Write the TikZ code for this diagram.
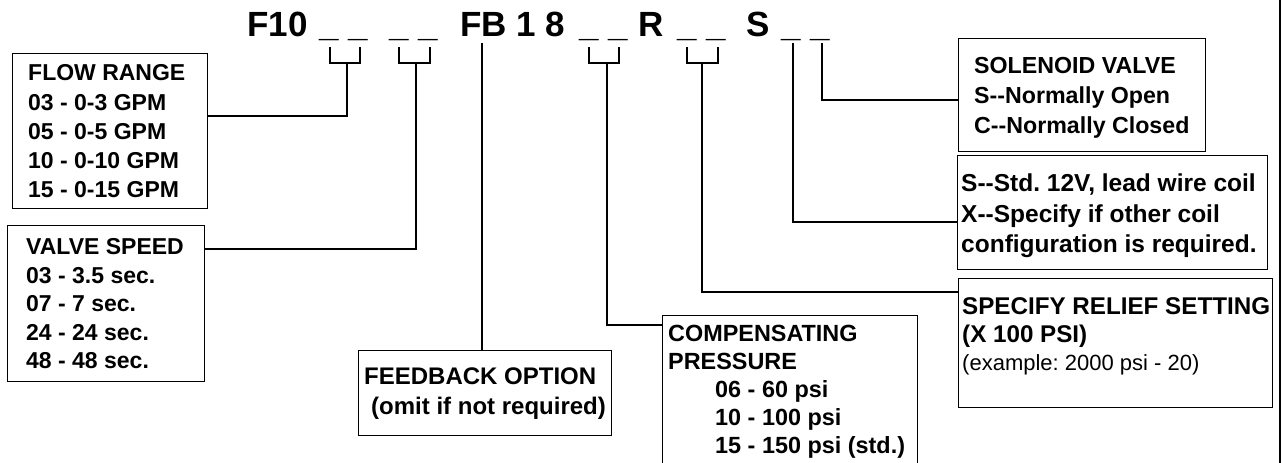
\documentclass[tikz,border=0pt]{standalone}
\usepackage{fontspec}
\setmainfont{Liberation Sans}
\frenchspacing
\begin{document}
\begin{tikzpicture}[x=1pt,y=-1pt]
\tikzset{
  box/.style={draw=black, line width=1.4pt, inner sep=0pt, anchor=north west},
  wire/.style={draw=black, line width=1.3pt},
  lbl/.style={inner sep=0pt, anchor=north west, align=left, font=\bfseries\fontsize{23}{29.25}\selectfont},
  ttl/.style={inner sep=0pt, anchor=base west, font=\bfseries\fontsize{35}{40}\selectfont},
}
\clip (0,0) rectangle (1283,463);
\fill[white] (0,0) rectangle (1283,463);

% title
\node[ttl] (t1) at (247,36) {F10};
\node[ttl] (u1) at (319,36) {\_ \_};
\node[ttl] (u2) at (389,36) {\_ \_};
\node[ttl] (t2) at (460,36) {FB 1 8};
\node[ttl] (u3) at (579,36) {\_ \_};
\node[ttl] (t3) at (638,36) {R};
\node[ttl] (u4) at (677,36) {\_ \_};
\node[ttl] (t4) at (746,36) {S};
\node[ttl] (u5) at (781,36) {\_ \_};

% boxes
\node[box, minimum width=195pt, minimum height=155pt] (flow) at (12,53) {};
\node[box, minimum width=197pt, minimum height=156pt] (valve) at (7,225) {};
\node[box, minimum width=253pt, minimum height=85pt] (feed) at (358,350) {};
\node[box, minimum width=255pt, minimum height=170pt] (comp) at (662,315) {};
\node[box, minimum width=247pt, minimum height=113pt] (sol) at (958,38) {};
\node[box, minimum width=310pt, minimum height=114pt] (coil) at (957,155) {};
\node[box, minimum width=314pt, minimum height=129pt] (spec) at (958,278) {};

% texts
\node[lbl] (flowt) at (28,64.7) {FLOW RANGE\\03 - 0-3 GPM\\05 - 0-5 GPM\\10 - 0-10 GPM\\15 - 0-15 GPM};
\node[lbl, font=\bfseries\fontsize{23}{28.5}\selectfont] (valvet) at (26,238.3) {VALVE SPEED\\03 - 3.5 sec.\\07 - 7 sec.\\24 - 24 sec.\\48 - 48 sec.};
\node[lbl, font=\bfseries\fontsize{24}{30}\selectfont] (feedt) at (364,368) {FEEDBACK OPTION\\\hspace*{7pt}(omit if not required)};
\node[lbl, font=\bfseries\fontsize{23.4}{28}\selectfont] (compt) at (668,325) {COMPENSATING\\PRESSURE\\\hspace*{47pt}06 - 60 psi\\\hspace*{47pt}10 - 100 psi\\\hspace*{47pt}15 - 150 psi (std.)};
\node[lbl, font=\bfseries\fontsize{23.2}{29.8}\selectfont] (solt) at (974,57.5) {SOLENOID VALVE\\S-{}-Normally Open\\C-{}-Normally Closed};
\node[lbl, font=\bfseries\fontsize{24.5}{30.6}\selectfont] (coilt) at (961,173.5) {S-{}-Std. 12V, lead wire coil\\X-{}-Specify if other coil\\configuration is required.};
\node[lbl, font=\bfseries\fontsize{24.2}{28.1}\selectfont] (spect) at (962,297.5) {SPECIFY RELIEF SETTING\\(X 100 PSI)\\{\mdseries\fontsize{22}{28.1}\selectfont (example: 2000 psi - 20)}};

% bracket tops and joints
\coordinate (b1l) at (330,47); \coordinate (b1r) at (360,47); \coordinate (b1m) at (347,63);
\coordinate (b2l) at (399,47); \coordinate (b2r) at (430,47); \coordinate (b2m) at (416,63);
\coordinate (b3l) at (589,47); \coordinate (b3r) at (619,47); \coordinate (b3m) at (607,63);
\coordinate (b4l) at (687,47); \coordinate (b4r) at (718,47); \coordinate (b4m) at (702,63);
\coordinate (fbtop) at (482,43);
\coordinate (s1top) at (793,43);
\coordinate (s2top) at (822,43);
\coordinate (j1) at (0,116);
\coordinate (j2) at (0,249);
\coordinate (j3) at (0,325);
\coordinate (j4) at (0,292);
\coordinate (j5) at (0,222);
\coordinate (j6) at (0,100);

\draw[wire] (b1l) -- ++(0,16) -| (b1r);
\draw[wire] (b2l) -- ++(0,16) -| (b2r);
\draw[wire] (b3l) -- ++(0,16) -| (b3r);
\draw[wire] (b4l) -- ++(0,16) -| (b4r);

\draw[wire] (b1m) |- (j1 -| flow.east);
\draw[wire] (b2m) |- (j2 -| valve.east);
\draw[wire] (fbtop) -- (fbtop |- feed.north);
\draw[wire] (b3m) |- (j3 -| comp.west);
\draw[wire] (b4m) |- (j4 -| spec.west);
\draw[wire] (s1top) |- (j5 -| coil.west);
\draw[wire] (s2top) |- (j6 -| sol.west);

% right edge rule
\draw[wire] (1280,0) -- (1280,463);
\end{tikzpicture}
\end{document}
